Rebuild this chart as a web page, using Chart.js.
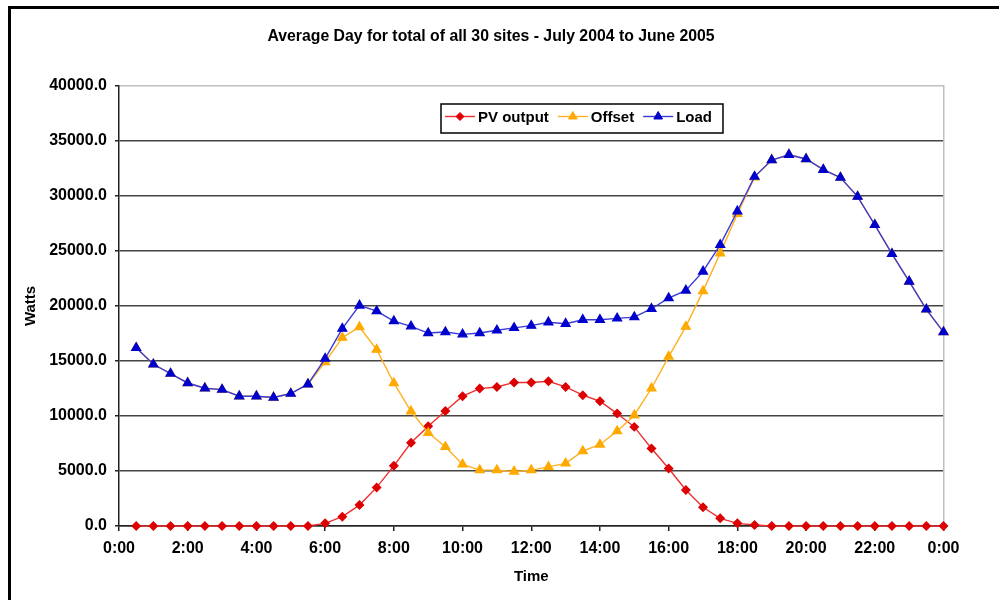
<!DOCTYPE html>
<html>
<head>
<meta charset="utf-8">
<script src="https://cdn.jsdelivr.net/npm/chart.js@4/dist/chart.umd.min.js"></script>
<style>
  html, body { margin: 0; padding: 0; background: #fff; overflow: hidden; }
  #wrap { position: relative; width: 999px; height: 600px; }
  #frame {
    position: absolute; left: 8px; top: 6px; width: 1100px; height: 700px;
    border: 3px solid #000; pointer-events: none;
  }
</style>
</head>
<body>
<div id="wrap">
  <canvas id="chart"></canvas>
  <div id="frame"></div>
</div>
<script>
// half-hour readings, 0:30 through midnight
const times = [
  '0:30', '1:00', '1:30', '2:00', '2:30', '3:00', '3:30', '4:00', '4:30', '5:00', '5:30', '6:00',
  '6:30', '7:00', '7:30', '8:00', '8:30', '9:00', '9:30', '10:00', '10:30', '11:00', '11:30', '12:00',
  '12:30', '13:00', '13:30', '14:00', '14:30', '15:00', '15:30', '16:00', '16:30', '17:00', '17:30', '18:00',
  '18:30', '19:00', '19:30', '20:00', '20:30', '21:00', '21:30', '22:00', '22:30', '23:00', '23:30', '0:00'
];

const pvOutput = [
  0, 0, 0, 0, 0, 0, 0, 0, 0, 0, 0, 240,
  850, 1900, 3510, 5470, 7560, 9070, 10460, 11800, 12490, 12640, 13050, 13050,
  13160, 12640, 11890, 11340, 10220, 9010, 7050, 5230, 3270, 1700, 700, 240,
  90, 0, 0, 0, 0, 0, 0, 0, 0, 0, 0, 0
];

const offset = [
  16200, 14700, 13860, 13000, 12520, 12400, 11800, 11800, 11680, 12040, 12890, 14910,
  17120, 18090, 16030, 13000, 10430, 8470, 7200, 5600, 5080, 5080, 4960, 5080,
  5370, 5690, 6810, 7410, 8620, 10070, 12520, 15400, 18120, 21350, 24800, 28370,
  31700, 33270, 33750, 33360, 32390, 31670, 29940, 27380, 24740, 22230, 19690, 17630
];

const load = [
  16200, 14700, 13860, 13000, 12520, 12400, 11800, 11800, 11680, 12040, 12890, 15220,
  17940, 20050, 19540, 18630, 18150, 17540, 17630, 17420, 17540, 17790, 18010, 18210,
  18520, 18390, 18750, 18750, 18870, 18990, 19750, 20720, 21410, 23140, 25560, 28610,
  31760, 33270, 33750, 33360, 32390, 31670, 29940, 27380, 24740, 22230, 19690, 17630
];

const yTicks = [0, 5000, 10000, 15000, 20000, 25000, 30000, 35000, 40000];

// "h:mm" -> hours, the closing 0:00 is the end of the day
function toHours(t, i) {
  const [h, m] = t.split(':').map(Number);
  const v = h + m / 60;
  return (i > 0 && v === 0) ? 24 : v;
}
const hours = times.map(toHours);
const pairs = arr => arr.map((v, i) => ({ x: hours[i], y: v }));

const FONT = 'Arial, "Liberation Sans", sans-serif';

// legend drawn as a framed box inside the plot, like Excel does
const boxLegend = {
  id: 'boxLegend',
  afterDraw(chart, args, opts) {
    const ctx = chart.ctx;
    ctx.save();
    ctx.font = 'bold 15px ' + FONT;
    const sample = 30, gap = 3, spacing = 9, padL = 4, padR = 11;
    const items = chart.data.datasets.map(ds => ({ ds, w: ctx.measureText(ds.label).width }));
    let total = padL + padR + spacing * (items.length - 1);
    items.forEach(it => { total += sample + gap + it.w; });
    const x0 = opts.x, y0 = opts.y, h = opts.height;
    ctx.fillStyle = '#fff';
    ctx.fillRect(x0, y0, total, h);
    ctx.strokeStyle = '#000';
    ctx.lineWidth = 1.5;
    ctx.strokeRect(x0, y0, total, h);
    const cy = y0 + h / 2 - 2;
    let x = x0 + padL;
    items.forEach(({ ds, w }) => {
      ctx.strokeStyle = ds.borderColor;
      ctx.lineWidth = ds.borderWidth;
      ctx.beginPath();
      ctx.moveTo(x, cy);
      ctx.lineTo(x + sample, cy);
      ctx.stroke();
      ctx.fillStyle = ds.pointBackgroundColor;
      ctx.strokeStyle = ds.pointBorderColor;
      ctx.lineWidth = 1;
      Chart.helpers.drawPoint(ctx, { pointStyle: ds.pointStyle, radius: ds.pointRadius, borderWidth: 1, rotation: 0 }, x + sample / 2, cy);
      ctx.fillStyle = '#000';
      ctx.textAlign = 'left';
      ctx.textBaseline = 'middle';
      ctx.fillText(ds.label, x + sample + gap, cy + 1);
      x += sample + gap + w + spacing;
    });
    ctx.restore();
  }
};

new Chart(document.getElementById('chart'), {
  type: 'line',
  data: {
    datasets: [
      {
        label: 'PV output',
        data: pairs(pvOutput),
        borderColor: '#ee3030',
        borderWidth: 1.4,
        pointStyle: 'rectRot',
        pointRadius: 4,
        pointBackgroundColor: '#dd0000',
        pointBorderColor: '#dd0000',
        order: 2,
        clip: false
      },
      {
        label: 'Offset',
        data: pairs(offset),
        borderColor: '#ffb020',
        borderWidth: 1.4,
        pointStyle: 'triangle',
        pointRadius: 5,
        pointBackgroundColor: '#ffaa00',
        pointBorderColor: '#ffaa00',
        order: 1,
        clip: false
      },
      {
        label: 'Load',
        data: pairs(load),
        borderColor: '#3a3ad8',
        borderWidth: 1.4,
        pointStyle: 'triangle',
        pointRadius: 5,
        pointBackgroundColor: '#0000cc',
        pointBorderColor: '#0000cc',
        order: 0,
        clip: false
      }
    ]
  },
  options: {
    responsive: true,
    maintainAspectRatio: false,
    animation: false,
    layout: { padding: { left: 0, right: 17, top: 0, bottom: 0 } },
    plugins: {
      legend: { display: false },
      tooltip: { enabled: false },
      title: {
        display: true,
        text: 'Average Day for total of all 30 sites - July 2004 to June 2005',
        color: '#000',
        font: { family: FONT, size: 15.8, weight: 'bold' },
        padding: { top: 27, bottom: 40 }
      },
      boxLegend: { x: 441, y: 104, height: 29 }
    },
    scales: {
      x: {
        type: 'linear',
        min: 0,
        max: 24,
        afterFit: s => { s.height = 74; },
        border: { display: true, color: '#222', width: 1.5 },
        grid: { drawOnChartArea: false, drawTicks: true, tickLength: 5, color: '#222', lineWidth: 1.5 },
        ticks: {
          stepSize: 2,
          padding: 8,
          color: '#000',
          font: { family: FONT, size: 16, weight: 'bold' },
          maxRotation: 0,
          callback: v => (v % 24) + ':00'
        },
        title: {
          display: true,
          text: 'Time',
          color: '#000',
          font: { family: FONT, size: 15, weight: 'bold' },
          padding: { top: 0, bottom: 14 }
        }
      },
      y: {
        position: 'left',
        min: 0,
        max: 40000,
        afterFit: s => { s.width = 119; },
        afterBuildTicks: s => { s.ticks = yTicks.map(v => ({ value: v })); },
        border: { display: true, color: '#222', width: 1.5 },
        grid: {
          drawTicks: true,
          tickLength: 4,
          lineWidth: 1.5,
          color: c => (c.tick && c.tick.value === 40000) ? '#c0c0c0' : '#444',
          tickColor: '#222'
        },
        ticks: {
          padding: 8,
          color: '#000',
          font: { family: FONT, size: 16, weight: 'bold' },
          callback: v => Number(v).toFixed(1)
        },
        title: {
          display: true,
          text: 'Watts',
          color: '#000',
          font: { family: FONT, size: 15, weight: 'bold' },
          padding: { top: 22, bottom: 0 }
        }
      },
      y2: {
        display: true,
        position: 'right',
        min: 0,
        max: 40000,
        afterFit: s => { s.width = 38.5; },
        grid: { display: false },
        ticks: { display: false },
        border: { display: true, color: '#c0c0c0', width: 1.5 }
      }
    }
  },
  plugins: [boxLegend]
});
</script>
</body>
</html>
